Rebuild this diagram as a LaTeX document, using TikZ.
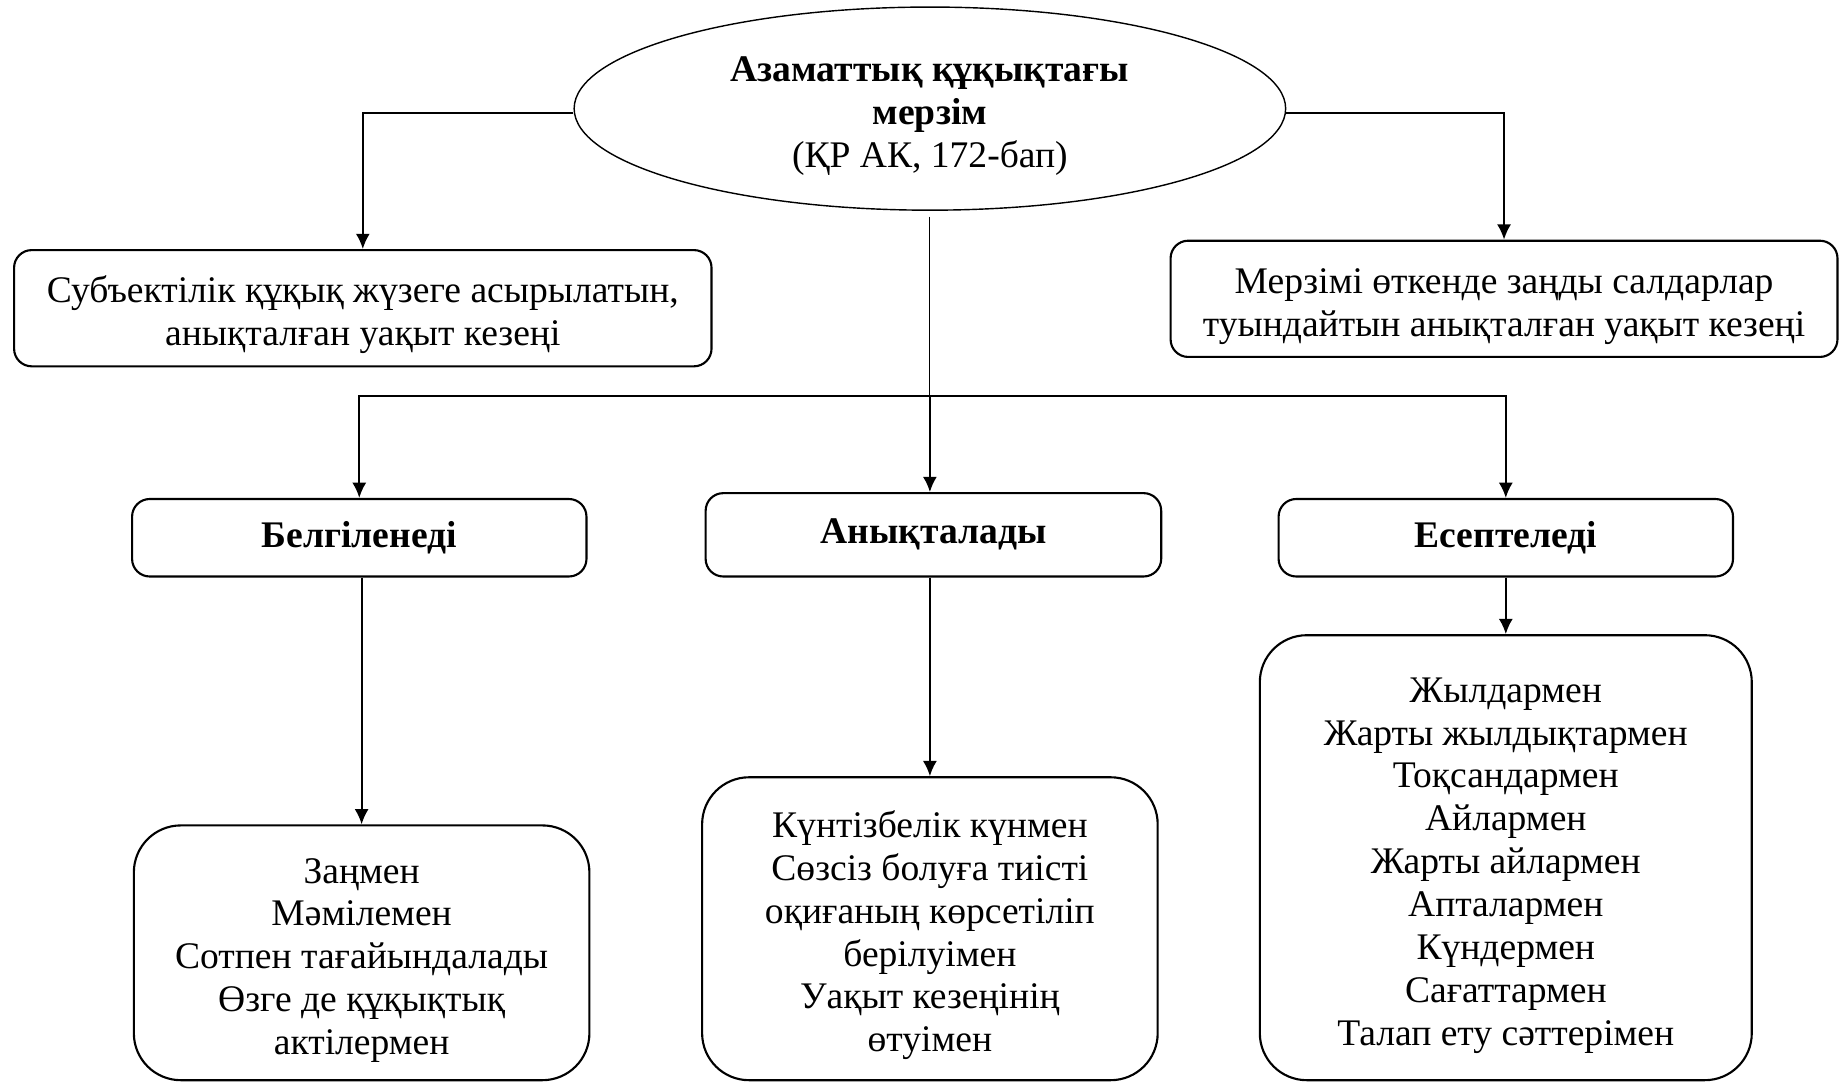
\documentclass[tikz,border=0pt]{standalone}
\usepackage{fontspec}
\setmainfont{Liberation Serif}
\usetikzlibrary{positioning,shapes.geometric,arrows.meta}
\newcommand{\tallup}{\rule{0pt}{34pt}}
\tikzset{ %inner sep = 0,
  >={Latex[length=13pt,width=12pt]},
  every node/.style={font=\fontsize{32}{36.5}\selectfont},
  term/.style={ellipse,draw,line width=1.2pt,inner sep=0,
    minimum width=606pt,minimum height=173pt,align=center},
  box/.style ={rectangle,rounded corners=15pt,draw,line width=1.8pt,
    inner sep=0,align=center},
  bigbox/.style ={box,rounded corners=40pt},
  {edge/.style} ={draw,line width=1pt},
  {dedge/.style} ={draw,line width=1.8pt,->},
 }
\begin{document}
\begin{tikzpicture}[x=1pt,y=-1pt]
        \useasboundingbox (0,0) rectangle (1568,922);
        \node[term] (mer) at (792,92.5)
                {\tallup\textbf{Азаматтық құқықтағы}\\\textbf{мерзім}\\(ҚР АК, 172-бап)};
        \node[box,minimum width=594pt,minimum height=99pt] (sub) at (309,262.5)
                {\tallup Субъектілік құқық жүзеге асырылатын,\\анықталған уақыт кезеңі};
        \node[box,minimum width=568pt,minimum height=99pt] (sald) at (1281,254.5)
                {\tallup Мерзімі өткенде заңды салдарлар\\туындайтын анықталған уақыт кезеңі};
        \node[box,minimum width=387pt,minimum height=66pt] (bel) at (306,458)
                {\textbf{Белгіленеді}};
        \node[box,minimum width=388pt,minimum height=71pt] (anyq) at (795,455.5)
                {\textbf{Анықталады}};
        \node[box,minimum width=387pt,minimum height=66pt] (esep) at (1282.5,458)
                {\textbf{Есептеледі}};
        \node[bigbox,minimum width=388pt,minimum height=217pt] (zan) at (308,811.5)
                {\tallup Заңмен\\Мәмілемен\\Сотпен тағайындалады\\Өзге де құқықтық\\актілермен};
        \node[bigbox,minimum width=388pt,minimum height=258pt] (kun) at (792,791)
                {\tallup Күнтізбелік күнмен\\Сөзсіз болуға тиісті\\оқиғаның көрсетіліп\\берілуімен\\Уақыт кезеңінің\\өтуімен};
        \node[bigbox,minimum width=419pt,minimum height=379pt] (zhyl) at (1282.5,730.5)
                {\tallup Жылдармен\\Жарты жылдықтармен\\Тоқсандармен\\Айлармен\\Жарты айлармен\\Апталармен\\Күндермен\\Сағаттармен\\Талап ету сәттерімен};
        \coordinate (hub) at (792,337);
        %from the ellipse
        \path[dedge] ([yshift=-4pt]mer.west) -| (sub.north);
        \path[dedge] ([yshift=-4pt]mer.east) -| (sald.north);
        \path[edge] ([yshift=-5pt]mer.south) -- (hub);
        \path[dedge] (hub) -| (bel.north);
        \path[dedge] (hub) -- (hub |- anyq.north);
        \path[dedge] (hub) -| (esep.north);
        %down to the lists
        \path[dedge] (zan.north |- bel.south) -- (zan.north);
        \path[dedge] (anyq.south -| kun.north) -- (kun.north);
        \path[dedge] (esep.south) -- (zhyl.north);
\end{tikzpicture}
\end{document}
